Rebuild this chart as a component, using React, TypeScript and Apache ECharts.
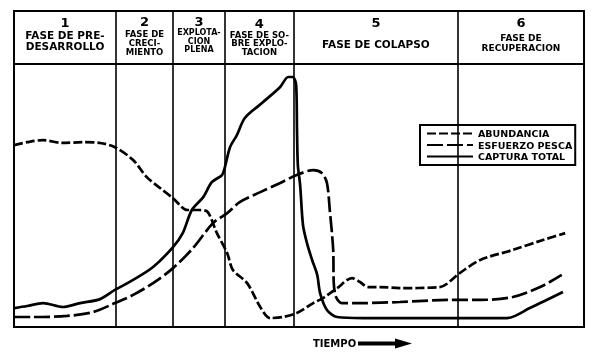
import React, { useEffect, useRef } from "react";
import * as echarts from "echarts";

// Phase boundaries on the time axis (0..100)
const phaseEdges = [0, 17.9, 27.9, 37.0, 49.1, 77.9, 100];
const phaseNumbers = ["1", "2", "3", "4", "5", "6"];
const phaseTitles = [
  ["FASE DE PRE-", "DESARROLLO"],
  ["FASE DE", "CRECI-", "MIENTO"],
  ["EXPLOTA-", "CION", "PLENA"],
  ["FASE DE SO-", "BRE EXPLO-", "TACION"],
  ["FASE DE COLAPSO"],
  ["FASE DE", "RECUPERACION"],
];

const seriesNames = ["ABUNDANCIA", "ESFUERZO PESCA", "CAPTURA TOTAL"];

// ABUNDANCIA
const abundanceT = [0, 2.3, 5.1, 8.4, 12.1, 15.1, 17.7, 20.9, 23.3, 25.6, 27.9, 30.4, 32.6, 34.0, 35.6, 37.4, 38.4, 40.9, 43.2, 44.9, 47.2, 49.6, 52.5, 54.2, 56.7, 59.3, 60.7, 62.1, 64.2, 67.7, 74.7, 78.2, 81.8, 87.5, 92.8, 96.7];
const abundanceV = [69.2, 70.3, 71.1, 70.0, 70.3, 70.0, 68.4, 63.5, 57.0, 52.9, 49.0, 44.5, 44.5, 43.7, 35.7, 28.1, 21.7, 16.7, 7.6, 3.4, 3.8, 5.3, 9.1, 11.0, 14.8, 18.6, 17.1, 15.2, 15.2, 14.8, 15.2, 20.5, 25.5, 29.3, 33.1, 35.7];

// ESFUERZO PESCA
const effortT = [0, 3.3, 9.3, 13.9, 17.7, 20.9, 24.4, 27.9, 31.4, 34.9, 37.4, 39.6, 43.2, 46.7, 49.6, 52.5, 54.0, 54.9, 55.4, 56.0, 56.1, 56.5, 57.5, 61.2, 67.7, 76.0, 81.8, 87.5, 92.3, 96.1];
const effortV = [3.8, 3.8, 4.2, 5.7, 9.1, 12.2, 16.7, 22.4, 30.0, 39.5, 43.3, 47.5, 51.3, 54.8, 57.8, 59.7, 58.6, 54.8, 44.5, 29.3, 16.7, 11.4, 9.1, 9.1, 9.5, 10.3, 10.3, 11.4, 15.2, 19.8];

// CAPTURA TOTAL
const catchT = [0, 2.3, 5.1, 8.6, 11.6, 15.1, 17.7, 20.9, 24.4, 27.9, 29.6, 31.2, 33.2, 34.7, 36.5, 37.0, 37.9, 39.1, 40.5, 43.5, 46.7, 48.1, 48.9, 49.5, 49.65, 49.8, 50.2, 50.7, 51.4, 52.3, 53.2, 53.7, 54.9, 56.7, 61.2, 67.7, 79.5, 86.5, 90.5, 96.3];
const catchV = [7.2, 8.0, 9.1, 7.6, 9.1, 10.6, 14.1, 17.9, 22.8, 30.4, 35.7, 44.5, 49.4, 55.1, 57.8, 60.8, 68.4, 73.0, 79.5, 85.2, 91.3, 95.1, 95.1, 92.0, 74.9, 61.6, 54.0, 38.8, 31.9, 25.5, 19.8, 12.9, 6.5, 3.8, 3.4, 3.4, 3.4, 3.4, 7.2, 13.3];

const FONT = '"DejaVu Sans", "Liberation Sans", Arial, sans-serif';
const HEADER_BOTTOM = 100;
const HEADER_TOP = 120.2;

const headerStyles = [
  { fs: 10.5, lh: 11, gap: 0.5, d: 4 },
  { fs: 8.5, lh: 9, gap: 0.5, d: 3.5 },
  { fs: 8, lh: 8.5, gap: 0, d: 3.5 },
  { fs: 8.5, lh: 8.5, gap: 0, d: 5.5 },
  { fs: 10.5, lh: 11, gap: 8.5, d: 4.5 },
  { fs: 9, lh: 10, gap: 3, d: 4.5 },
];

export default function App() {
  const ref = useRef<HTMLDivElement>(null);
  useEffect(() => {
    if (!ref.current) return;
    const chart = echarts.init(ref.current, undefined, { renderer: "svg" });

    const pair = (t: number[], v: number[]) => t.map((x, i) => [x, v[i]]);

    const areas = phaseNumbers.map((num, i) => {
      const st = headerStyles[i];
      const text = ["{n|" + num + "}", "{g| }"].concat(phaseTitles[i].map((l) => "{t|" + l + "}")).join("\n");
      return [
        {
          xAxis: phaseEdges[i],
          yAxis: HEADER_BOTTOM,
          label: {
            show: true,
            position: "insideTop",
            distance: st.d,
            color: "#000",
            fontFamily: FONT,
            formatter: () => text,
            rich: {
              n: { fontSize: 13, fontWeight: "bold", lineHeight: 14, fontFamily: FONT, color: "#000" },
              g: { fontSize: 1, lineHeight: st.gap, fontFamily: FONT },
              t: { fontSize: st.fs, fontWeight: "bold", lineHeight: st.lh, fontFamily: FONT, color: "#000" },
            },
          },
        },
        { xAxis: phaseEdges[i + 1], yAxis: HEADER_TOP },
      ];
    });

    const lineDefs = [
      { name: seriesNames[0], data: pair(abundanceT, abundanceV), dash: [9, 3] },
      { name: seriesNames[1], data: pair(effortT, effortV), dash: [16, 4] },
      { name: seriesNames[2], data: pair(catchT, catchV), dash: "solid" },
    ];

    chart.setOption({
      animation: false,
      grid: {
        left: 14,
        right: 16,
        top: 11,
        bottom: 28,
        show: true,
        borderColor: "#000",
        borderWidth: 2,
        backgroundColor: "transparent",
      },
      xAxis: {
        type: "value",
        min: 0,
        max: 100,
        axisLine: { show: false },
        axisTick: { show: false },
        axisLabel: { show: false },
        splitLine: { show: false },
      },
      yAxis: {
        type: "value",
        min: 0,
        max: HEADER_TOP,
        axisLine: { show: false },
        axisTick: { show: false },
        axisLabel: { show: false },
        splitLine: { show: false },
      },
      legend: {
        orient: "vertical",
        left: 420,
        top: 125,
        itemWidth: 46,
        itemHeight: 11,
        itemGap: 0.5,
        padding: [3, 3, 3, 6],
        borderColor: "#000",
        borderWidth: 2,
        backgroundColor: "#fff",
        data: seriesNames,
        itemStyle: { opacity: 0 },
        textStyle: { fontFamily: FONT, fontSize: 9.5, fontWeight: "bold", color: "#000", lineHeight: 11 },
      },
      series: [
        ...lineDefs.map((d) => ({
          type: "line",
          name: d.name,
          data: d.data,
          showSymbol: false,
          symbol: "none",
          smooth: 0.3,
          lineStyle: { color: "#000", width: 2.7, type: d.dash },
          itemStyle: { color: "#000" },
          z: 3,
        })),
        {
          type: "line",
          name: "phases",
          data: [],
          silent: true,
          markLine: {
            silent: true,
            symbol: ["none", "none"],
            label: { show: false },
            lineStyle: { color: "#000", width: 1.6, type: "solid" },
            data: [
              ...phaseEdges.slice(1, -1).map((v) => ({ xAxis: v })),
              { yAxis: HEADER_BOTTOM, lineStyle: { color: "#000", width: 2, type: "solid" } },
            ],
          },
          markArea: {
            silent: true,
            itemStyle: { color: "transparent", borderWidth: 0 },
            data: areas,
          },
        },
      ],
      graphic: [
        {
          type: "text",
          x: 313,
          y: 343,
          style: { text: "TIEMPO", fontFamily: FONT, fontSize: 10, fontWeight: "bold", fill: "#000", verticalAlign: "middle" },
        },
        { type: "rect", shape: { x: 358, y: 341.5, width: 38, height: 4 }, style: { fill: "#000" } },
        { type: "polygon", shape: { points: [[395, 338.5], [412, 343.5], [395, 348.5]] }, style: { fill: "#000" } },
      ],
    });
    return () => chart.dispose();
  }, []);
  return <div ref={ref} style={{ position: "fixed", left: 0, top: 0, width: 600, height: 355 }} />;
}
